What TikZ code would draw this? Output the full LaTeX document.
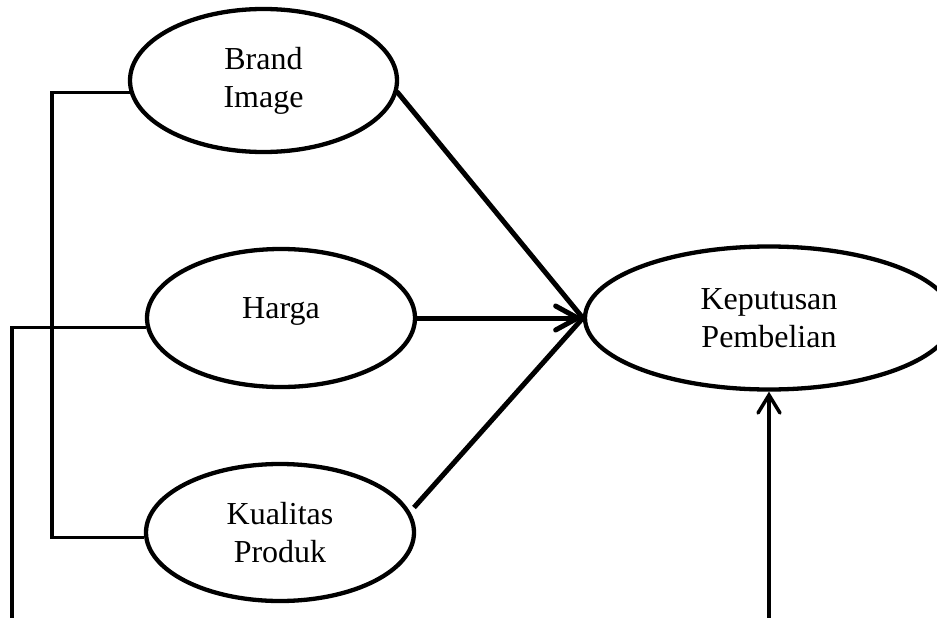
\documentclass[tikz,border=0pt]{standalone}
\usepackage{fontspec}
\setmainfont{Liberation Serif}
\usetikzlibrary{arrows.meta,shapes.geometric,calc}
\begin{document}
\begin{tikzpicture}[x=1pt,y=-1pt,
  var/.style={ellipse,draw=black,line width=4.3pt,inner sep=0pt,align=center,
    font=\fontsize{32}{38}\selectfont},
  path1/.style={draw=black,line width=5pt},
  side/.style={draw=black,line width=3.3pt,line join=miter},
  tip/.style={-{Straight Barb[length=22pt,width=24pt,line cap=round]}}
  ]
\path[use as bounding box,clip] (0,0) rectangle (937,618);
\node[var,minimum width=267pt,minimum height=143pt] (b) at (263.5,80.5) {Brand\\Image};
\node[var,minimum width=268pt,minimum height=138pt,text height=14pt,text depth=14pt] (h) at (281,318) {Harga};
\node[var,minimum width=268pt,minimum height=137pt] (q) at (280,532.5) {Kualitas\\Produk};
\node[var,minimum width=368pt,minimum height=143pt] (k) at (769,318) {Keputusan\\Pembelian};
\coordinate (lx) at (52,0);
\coordinate (hx) at (12,618);
\coordinate (ka) at (769,618);
\coordinate (qs) at ($(q.center)+(134,-25)$);
% arrows to Keputusan
\draw[path1,line cap=round] (b.-5.3) -- (k.west);
\draw[path1,line cap=butt] (qs) -- (k.west);
\draw[path1,tip] (h.east) -- (k.west);
\draw[draw=black,line width=3.5pt,-{Straight Barb[length=18pt,width=22pt,line cap=round]}] (ka) -- (k.south);
% left brackets
\draw[side] (b.185) -- (b.185 -| lx) -- (q.182 -| lx) -- (q.182);
\draw[side] (h.184) -| (hx);
\end{tikzpicture}
\end{document}
